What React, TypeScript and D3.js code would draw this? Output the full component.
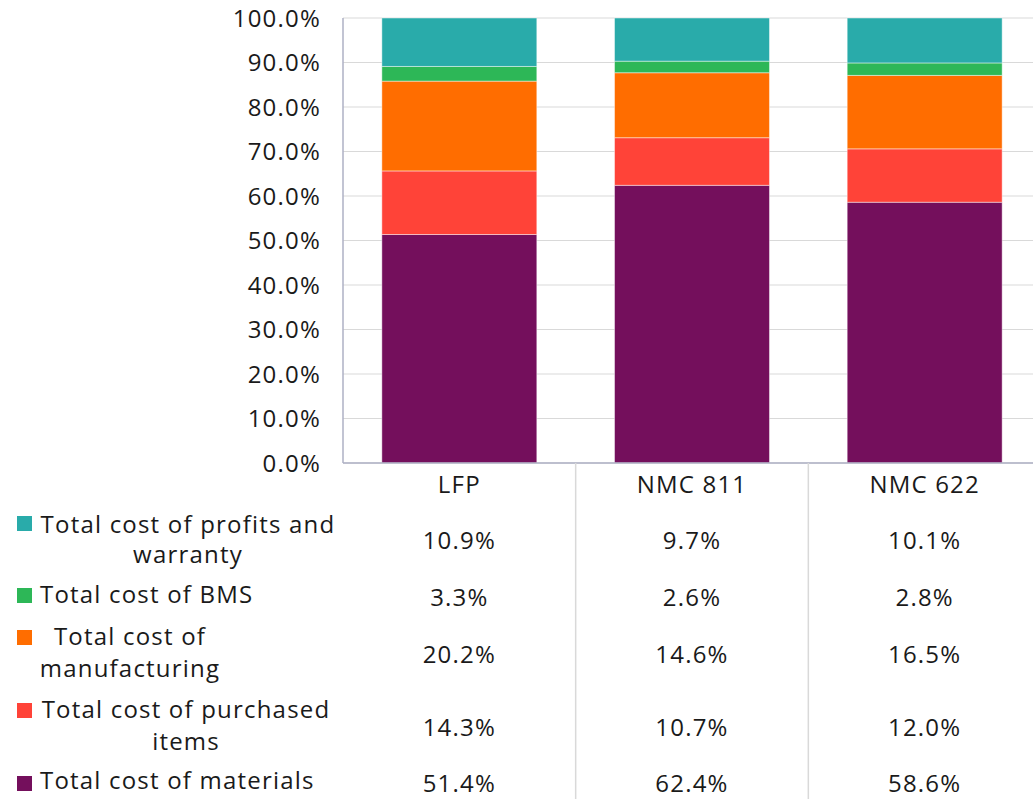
import React from "react";
import * as d3 from "d3";

const categories = ["LFP", "NMC 811", "NMC 622"];
const seriesNames = [
  "Total cost of materials",
  "Total cost of purchased items",
  "Total cost of manufacturing",
  "Total cost of BMS",
  "Total cost of profits and warranty",
];
const materials = [51.4, 62.4, 58.6];
const purchased = [14.3, 10.7, 12.0];
const manufacturing = [20.2, 14.6, 16.5];
const bms = [3.3, 2.6, 2.8];
const profits = [10.9, 9.7, 10.1];
const yTicks = [0, 0.1, 0.2, 0.3, 0.4, 0.5, 0.6, 0.7, 0.8, 0.9, 1.0];

const colors = ["#740f5c", "#ff4338", "#ff6d00", "#2db757", "#29abaa"];

const W = 1033;
const H = 799;
const left = 343;
const right = 1041;
const top = 18;
const bottom = 463;
const FONT = "'Open Sans', 'DejaVu Sans', sans-serif";
const FS = 24;
const LS = 1.2;

// table rows (top to bottom) with layout of legend labels
const tableRows = [
  { key: 4, lines: ["Total cost of profits and", "warranty"], cx: 188, baselines: [533, 563], sq: 516, valueY: 549 },
  { key: 3, lines: ["Total cost of BMS"], cx: null, baselines: [603], sq: 588, valueY: 606 },
  { key: 2, lines: ["Total cost of", "manufacturing"], cx: 130, baselines: [645, 677], sq: 630, valueY: 663 },
  { key: 1, lines: ["Total cost of purchased", "items"], cx: 186, baselines: [718, 750], sq: 703, valueY: 736 },
  { key: 0, lines: ["Total cost of materials"], cx: null, baselines: [789], sq: 776, valueY: 792 },
];

export default function App() {
  const seriesValues = [materials, purchased, manufacturing, bms, profits];
  const data = categories.map((c, i) => {
    const o: any = { cat: c };
    seriesNames.forEach((s, k) => (o[s] = seriesValues[k][i]));
    return o;
  });
  const stack = d3.stack().keys(seriesNames).offset(d3.stackOffsetExpand);
  const stacked = stack(data as any);

  const x = d3.scaleBand().domain(categories).range([left, right]).paddingInner(0.334).paddingOuter(0.167);
  const band = d3.scaleBand().domain(categories).range([left, right]);
  const y = d3.scaleLinear().domain([0, 1]).range([bottom, top]);
  const fmt = d3.format(".1f");

  return (
    <svg width={W} height={H} style={{ position: "absolute", left: 0, top: 0, background: "#fff" }}
      fontFamily={FONT} fontSize={FS} letterSpacing={LS}>
      {/* gridlines */}
      {yTicks.map((t) => (
        <line key={t} x1={left} x2={right} y1={y(t)} y2={y(t)} stroke="#d9d9d9" strokeWidth={1.2} />
      ))}
      {/* bars */}
      {stacked.map((s, k) => (
        <g key={k} fill={colors[k]}>
          {s.map((d: any, i: number) => (
            <rect key={i} x={x(categories[i])} width={x.bandwidth()} y={y(d[1])} height={y(d[0]) - y(d[1])}
              stroke="#ffffff" strokeOpacity={0.45} strokeWidth={1} />
          ))}
        </g>
      ))}
      {/* axes */}
      <line x1={left} x2={left} y1={top} y2={bottom} stroke="#aeb0c4" strokeWidth={1.5} />
      <line x1={left} x2={right} y1={bottom} y2={bottom} stroke="#aeb0c4" strokeWidth={1.5} />
      {/* y tick labels */}
      {yTicks.map((t) => (
        <text key={t} x={321} y={y(t)} dy="0.36em" textAnchor="end" fill="#1a1a1a">
          {fmt(t * 100) + "%"}
        </text>
      ))}
      {/* table dividers */}
      {categories.slice(1).map((c) => (
        <line key={c} x1={band(c)} x2={band(c)} y1={bottom} y2={H} stroke="#d9d9d9" strokeWidth={1.5} />
      ))}
      {/* category labels */}
      {categories.map((c) => (
        <text key={c} x={(x(c) as number) + x.bandwidth() / 2} y={493} textAnchor="middle" fill="#1a1a1a">
          {c}
        </text>
      ))}
      {/* table rows */}
      {tableRows.map((r) => (
        <g key={r.key}>
          <rect x={17} y={r.sq} width={15} height={15} fill={colors[r.key]} />
          {r.lines.map((ln, j) => (
            <text key={j} x={r.cx == null ? 40 : r.cx} y={r.baselines[j]}
              textAnchor={r.cx == null ? "start" : "middle"} fill="#1a1a1a">
              {ln}
            </text>
          ))}
          {categories.map((c, i) => (
            <text key={c} x={(x(c) as number) + x.bandwidth() / 2} y={r.valueY} textAnchor="middle" fill="#1a1a1a">
              {fmt(seriesValues[r.key][i]) + "%"}
            </text>
          ))}
        </g>
      ))}
    </svg>
  );
}
